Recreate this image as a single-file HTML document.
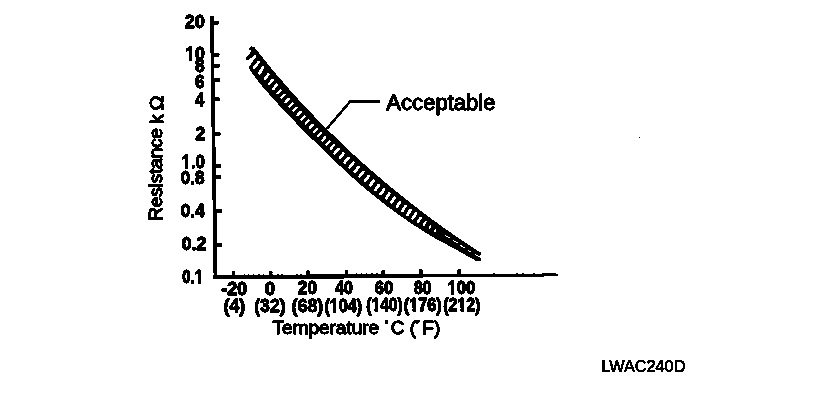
<!DOCTYPE html>
<html><head><meta charset="utf-8"><title>Resistance vs Temperature</title>
<style>
html,body{margin:0;padding:0;background:#fff;}
body{width:816px;height:416px;overflow:hidden;font-family:"Liberation Sans",sans-serif;}
svg{display:block;font-family:"Liberation Sans",sans-serif;}
svg{filter:url(#thr);}
svg text{fill:#000;stroke:#000;stroke-width:0.6px;stroke-linejoin:round;}
svg text.b{stroke-width:0.9px;}
</style></head>
<body>
<svg width="816" height="416" viewBox="0 0 816 416" shape-rendering="geometricPrecision">
<defs><filter id="thr" x="0" y="0" width="816" height="416" filterUnits="userSpaceOnUse" color-interpolation-filters="sRGB">
<feColorMatrix type="matrix" values="0.33 0.34 0.33 0 0  0.33 0.34 0.33 0 0  0.33 0.34 0.33 0 0  0 0 0 1 0"/>
<feComponentTransfer><feFuncR type="discrete" tableValues="0 0 0 0 0 0 0 0 0 0 0 1 1 1 1 1"/><feFuncG type="discrete" tableValues="0 0 0 0 0 0 0 0 0 0 0 1 1 1 1 1"/><feFuncB type="discrete" tableValues="0 0 0 0 0 0 0 0 0 0 0 1 1 1 1 1"/></feComponentTransfer>
</filter></defs>
<rect width="816" height="416" fill="#fff"/>
<!-- axes -->
<polygon points="210.2,16 213.3,16 217.3,278.9 213.8,278.9" fill="#000"/>
<polygon points="213.8,275.2 345,274.5 395,274.0 430,273.8 540,273.7 555,273.2 557.9,274.4 557.9,275.9 555,276.3 430,276.8 418,277.7 345,278.2 338,278.9 213.8,278.9" fill="#000"/>
<g fill="#000">
<rect x="211.3" y="20.8" width="7.5" height="3.7" rx="0.8"/>
<rect x="211.7" y="53.6" width="7.6" height="3.7" rx="0.8"/>
<rect x="211.9" y="63.9" width="7.6" height="3.7" rx="0.8"/>
<rect x="212.1" y="78.0" width="7.6" height="3.7" rx="0.8"/>
<rect x="212.3" y="97.4" width="7.6" height="3.7" rx="0.8"/>
<rect x="212.8" y="132.2" width="7.7" height="3.7" rx="0.8"/>
<rect x="213.3" y="164.6" width="7.7" height="3.7" rx="0.8"/>
<rect x="213.4" y="175.3" width="7.7" height="3.7" rx="0.8"/>
<rect x="213.9" y="209.2" width="7.8" height="3.7" rx="0.8"/>
<rect x="214.3" y="243.1" width="7.8" height="3.7" rx="0.8"/>
<rect x="231.9" y="271.0" width="3.2" height="6.5" rx="1.2"/>
<rect x="269.1" y="271.0" width="3.2" height="6.5" rx="1.2"/>
<rect x="306.2" y="270.6" width="3.2" height="6.5" rx="1.2"/>
<rect x="344.8" y="270.0" width="3.2" height="6.5" rx="1.2"/>
<rect x="381.6" y="270.0" width="3.2" height="6.5" rx="1.2"/>
<rect x="419.3" y="269.0" width="3.2" height="6.5" rx="1.2"/>
<rect x="457.5" y="269.0" width="3.2" height="6.5" rx="1.2"/>
<rect x="244" y="274.6" width="1.6" height="1.2"/>
<rect x="248" y="274.5" width="1.6" height="1.2"/>
<rect x="253" y="274.6" width="1.6" height="1.2"/>
<rect x="258" y="274.5" width="1.6" height="1.2"/>
<rect x="263" y="274.6" width="1.6" height="1.2"/>
<rect x="277" y="274.5" width="1.6" height="1.2"/>
<rect x="281" y="274.4" width="1.6" height="1.2"/>
<rect x="296" y="274.4" width="1.6" height="1.2"/>
<rect x="300" y="274.3" width="1.6" height="1.2"/>
<rect x="337" y="274.0" width="1.6" height="1.2"/>
<rect x="341" y="273.9" width="1.6" height="1.2"/>
<rect x="352" y="273.7" width="1.6" height="1.2"/>
<rect x="356" y="273.6" width="1.6" height="1.2"/>
<rect x="361" y="273.5" width="1.6" height="1.2"/>
<rect x="366" y="273.5" width="1.6" height="1.2"/>
<rect x="371" y="273.4" width="1.6" height="1.2"/>
<rect x="376" y="273.4" width="1.6" height="1.2"/>
<rect x="493" y="273.2" width="1.6" height="1.2"/>
<rect x="516" y="273.1" width="1.6" height="1.2"/>
<rect x="522" y="273.1" width="1.6" height="1.2"/>
<rect x="533" y="273.0" width="1.6" height="1.2"/>
</g>
<!-- band -->
<polygon points="251.5,46.6 254.3,47.3 261.0,55.8 267.8,64.3 274.8,72.8 282.1,81.3 289.5,89.8 297.1,98.3 305.0,106.8 313.1,115.3 321.4,123.8 330.0,132.3 338.8,140.8 347.8,149.4 357.1,157.9 366.6,166.4 376.4,174.9 386.4,183.4 396.8,191.9 407.4,200.4 418.3,208.9 429.5,217.4 441.1,225.9 453.1,234.4 465.5,242.9 478.4,251.4 480.3,252.6 480.3,255.2 478.5,256.0 480.3,257.0 480.3,260.3 478.5,261.2 476.5,260.9 462.0,252.8 447.8,245.0 433.0,237.0 420.1,229.0 407.9,221.0 396.5,213.1 385.7,205.1 375.6,197.1 366.0,189.2 356.8,181.2 348.0,173.2 339.4,165.2 331.0,157.3 322.7,149.3 314.5,141.3 306.5,133.4 298.6,125.4 290.9,117.4 283.3,109.5 275.9,101.5 268.7,93.5 261.8,85.5 255.4,77.6 249.8,69.6 248.6,67.6 256.6,56.2 252.6,51.5 249.3,49.3 249.6,47.6" fill="#000"/>
<circle cx="479.3" cy="253.6" r="1.7" fill="#000"/><circle cx="479.0" cy="259.0" r="1.9" fill="#000"/>
<polygon points="251.4,51.4 253.5,51.6 255.2,54.6 247.4,60.4 245.6,58.7" fill="#000"/>
<g stroke="#fff" stroke-linecap="round">
<line x1="258.5" y1="62.2" x2="254.0" y2="67.9" stroke-width="3.0"/>
<line x1="262.9" y1="67.6" x2="259.5" y2="73.1" stroke-width="3.0"/>
<line x1="268.4" y1="74.2" x2="264.9" y2="79.0" stroke-width="2.9"/>
<line x1="272.7" y1="79.8" x2="269.1" y2="84.2" stroke-width="2.9"/>
<line x1="276.8" y1="84.6" x2="273.3" y2="89.0" stroke-width="2.9"/>
<line x1="280.7" y1="90.3" x2="277.5" y2="93.3" stroke-width="2.7"/>
<line x1="284.6" y1="94.7" x2="281.4" y2="97.7" stroke-width="2.7"/>
<line x1="288.6" y1="99.0" x2="285.4" y2="102.1" stroke-width="2.7"/>
<line x1="292.5" y1="103.4" x2="289.4" y2="106.5" stroke-width="2.7"/>
<line x1="296.5" y1="107.7" x2="293.4" y2="110.8" stroke-width="2.7"/>
<line x1="300.6" y1="112.0" x2="297.5" y2="115.1" stroke-width="2.7"/>
<line x1="304.6" y1="116.2" x2="301.6" y2="119.4" stroke-width="2.7"/>
<line x1="308.7" y1="120.4" x2="305.7" y2="123.6" stroke-width="2.7"/>
<line x1="312.9" y1="124.7" x2="309.8" y2="127.8" stroke-width="2.7"/>
<line x1="317.0" y1="128.8" x2="314.0" y2="132.1" stroke-width="2.7"/>
<line x1="321.2" y1="133.0" x2="318.2" y2="136.2" stroke-width="2.7"/>
<line x1="325.4" y1="137.1" x2="322.4" y2="140.4" stroke-width="2.7"/>
<line x1="329.6" y1="141.3" x2="326.6" y2="144.5" stroke-width="2.7"/>
<line x1="333.8" y1="145.3" x2="330.9" y2="148.6" stroke-width="2.7"/>
<line x1="338.5" y1="148.9" x2="334.7" y2="153.3" stroke-width="3.1"/>
<line x1="343.4" y1="153.5" x2="339.7" y2="157.9" stroke-width="3.1"/>
<line x1="348.4" y1="158.2" x2="344.6" y2="162.6" stroke-width="3.1"/>
<line x1="353.4" y1="162.8" x2="349.7" y2="167.2" stroke-width="3.1"/>
<line x1="358.4" y1="167.3" x2="354.7" y2="171.8" stroke-width="3.1"/>
<line x1="363.4" y1="171.8" x2="359.8" y2="176.4" stroke-width="3.1"/>
<line x1="368.5" y1="176.3" x2="365.0" y2="180.9" stroke-width="3.1"/>
<line x1="373.7" y1="180.7" x2="370.2" y2="185.3" stroke-width="3.1"/>
<line x1="378.9" y1="185.0" x2="375.4" y2="189.7" stroke-width="3.1"/>
<line x1="384.1" y1="189.3" x2="380.7" y2="194.0" stroke-width="3.1"/>
<line x1="389.4" y1="193.5" x2="386.1" y2="198.3" stroke-width="3.1"/>
<line x1="394.7" y1="197.7" x2="391.4" y2="202.5" stroke-width="3.1"/>
<line x1="400.1" y1="201.8" x2="396.9" y2="206.7" stroke-width="3.1"/>
<line x1="405.5" y1="206.0" x2="402.3" y2="210.8" stroke-width="3.1"/>
<line x1="410.6" y1="209.8" x2="407.5" y2="214.6" stroke-width="3.1"/>
<line x1="415.8" y1="213.5" x2="412.7" y2="218.3" stroke-width="3.1"/>
<line x1="420.7" y1="217.7" x2="418.2" y2="221.6" stroke-width="2.9"/>
<line x1="425.6" y1="221.8" x2="423.8" y2="224.8" stroke-width="2.6"/>
<line x1="430.6" y1="225.9" x2="429.4" y2="228.0" stroke-width="2.4"/>
<line x1="435.7" y1="229.9" x2="435.0" y2="231.0" stroke-width="2.2"/>
<line x1="445.6" y1="235.6" x2="449.6" y2="238.0" stroke-width="1.25"/>
<line x1="453.2" y1="240.4" x2="457.4" y2="242.9" stroke-width="1.25"/>
<line x1="460.8" y1="245.5" x2="465.0" y2="248.2" stroke-width="1.25"/>
<line x1="467.6" y1="250.0" x2="471.2" y2="252.2" stroke-width="1.25"/>
<line x1="475.0" y1="254.7" x2="481" y2="257.2" stroke-width="1.25"/>
</g>
<!-- leader -->
<polyline points="327,128.5 350.2,101.5 379.8,101.5" fill="none" stroke="#000" stroke-width="2.3" stroke-linejoin="miter"/>
<!-- labels -->
<text id="y0" x="184.75" y="27.95" class="b" font-size="17.60" font-weight="bold" textLength="20.01" lengthAdjust="spacingAndGlyphs">20</text>
<text id="y1" x="185.25" y="59.95" class="b" font-size="17.60" font-weight="bold" textLength="19.54" lengthAdjust="spacingAndGlyphs">10</text>
<text id="y2" x="195.00" y="72.45" class="b" font-size="17.60" font-weight="bold" textLength="9.53" lengthAdjust="spacingAndGlyphs">8</text>
<text id="y3" x="195.00" y="87.95" class="b" font-size="17.60" font-weight="bold" textLength="9.53" lengthAdjust="spacingAndGlyphs">6</text>
<text id="y4" x="195.25" y="106.20" class="b" font-size="17.60" font-weight="bold" textLength="8.87" lengthAdjust="spacingAndGlyphs">4</text>
<text id="y5" x="195.50" y="140.45" class="b" font-size="17.60" font-weight="bold" textLength="9.78" lengthAdjust="spacingAndGlyphs">2</text>
<text id="y6" x="181.50" y="167.95" class="b" font-size="17.60" font-weight="bold" textLength="23.26" lengthAdjust="spacingAndGlyphs">1.0</text>
<text id="y7" x="180.75" y="183.95" class="b" font-size="17.60" font-weight="bold" textLength="23.76" lengthAdjust="spacingAndGlyphs">0.8</text>
<text id="y8" x="180.75" y="216.70" class="b" font-size="17.60" font-weight="bold" textLength="24.00" lengthAdjust="spacingAndGlyphs">0.4</text>
<text id="y9" x="181.75" y="250.20" class="b" font-size="17.60" font-weight="bold" textLength="24.49" lengthAdjust="spacingAndGlyphs">0.2</text>
<text id="y10" x="182.25" y="282.70" class="b" font-size="17.60" font-weight="bold" textLength="20.81" lengthAdjust="spacingAndGlyphs">0.1</text>
<text id="a0" x="221.25" y="294.95" class="b" font-size="17.60" font-weight="bold" textLength="26.01" lengthAdjust="spacingAndGlyphs">-20</text>
<text id="a1" x="264.75" y="294.70" class="b" font-size="17.60" font-weight="bold" textLength="10.29" lengthAdjust="spacingAndGlyphs">0</text>
<text id="a2" x="297.75" y="294.45" class="b" font-size="17.60" font-weight="bold" textLength="19.50" lengthAdjust="spacingAndGlyphs">20</text>
<text id="a3" x="335.25" y="294.45" class="b" font-size="17.60" font-weight="bold" textLength="17.56" lengthAdjust="spacingAndGlyphs">40</text>
<text id="a4" x="374.75" y="294.45" class="b" font-size="17.60" font-weight="bold" textLength="18.51" lengthAdjust="spacingAndGlyphs">60</text>
<text id="a5" x="414.00" y="294.20" class="b" font-size="17.60" font-weight="bold" textLength="17.51" lengthAdjust="spacingAndGlyphs">80</text>
<text id="a6" x="447.50" y="293.95" class="b" font-size="17.60" font-weight="bold" textLength="27.74" lengthAdjust="spacingAndGlyphs">100</text>
<text id="b0" x="223.50" y="311.90" class="b" font-size="17.60" font-weight="bold" textLength="21.77" lengthAdjust="spacingAndGlyphs">(4)</text>
<text id="b1" x="254.25" y="311.90" class="b" font-size="17.60" font-weight="bold" textLength="31.27" lengthAdjust="spacingAndGlyphs">(32)</text>
<text id="b2" x="291.50" y="311.65" class="b" font-size="17.60" font-weight="bold" textLength="31.76" lengthAdjust="spacingAndGlyphs">(68)</text>
<text id="b3" x="324.50" y="311.65" class="b" font-size="17.60" font-weight="bold" textLength="37.51" lengthAdjust="spacingAndGlyphs">(104)</text>
<text id="b4" x="366.25" y="311.40" class="b" font-size="17.60" font-weight="bold" textLength="36.51" lengthAdjust="spacingAndGlyphs">(140)</text>
<text id="b5" x="403.75" y="311.15" class="b" font-size="17.60" font-weight="bold" textLength="38.04" lengthAdjust="spacingAndGlyphs">(176)</text>
<text id="b6" x="443.25" y="311.15" class="b" font-size="17.60" font-weight="bold" textLength="37.02" lengthAdjust="spacingAndGlyphs">(212)</text>
<text id="acc" x="386.35" y="110.00" font-size="21.80" font-weight="normal" textLength="109.20" lengthAdjust="spacingAndGlyphs" style="stroke-width:1.0px">Acceptable</text>
<text id="tmp" x="272.60" y="334.20" font-size="18.70" font-weight="normal" textLength="167.65" lengthAdjust="spacingAndGlyphs" style="stroke-width:1.0px">Temperature &#729;C (&#729;F)</text>
<text id="lw" x="601.50" y="371.50" font-size="16.00" font-weight="normal" textLength="83.87" lengthAdjust="spacingAndGlyphs" style="stroke-width:0.5px">LWAC240D</text>
<text id="res1" transform="translate(162.35,220.75) rotate(-90)" font-size="18.70" font-weight="normal" textLength="92.76" lengthAdjust="spacingAndGlyphs" style="stroke-width:1.0px">Resistance</text>
<text id="res2" transform="translate(162.60,124.00) rotate(-90)" font-size="18.70" font-weight="normal" textLength="9.51" lengthAdjust="spacingAndGlyphs" style="stroke-width:1.0px">k</text>
<text id="res3" transform="translate(162.60,110.50) rotate(-90)" font-size="18.70" font-weight="normal" textLength="15.03" lengthAdjust="spacingAndGlyphs" style="stroke-width:1.0px">&#937;</text>
<g id="wh"><rect x="185.21" y="56.70" width="3.70" height="4.40" fill="#fff"/>
<rect x="192.22" y="56.70" width="3.47" height="4.40" fill="#fff"/>
<rect x="181.40" y="164.70" width="3.55" height="4.40" fill="#fff"/>
<rect x="188.16" y="164.70" width="3.34" height="4.40" fill="#fff"/>
<rect x="194.52" y="279.45" width="3.25" height="4.40" fill="#fff"/>
<rect x="200.73" y="279.45" width="3.06" height="4.40" fill="#fff"/>
<rect x="447.40" y="290.70" width="3.54" height="4.40" fill="#fff"/>
<rect x="454.12" y="290.70" width="3.32" height="4.40" fill="#fff"/>
<rect x="329.70" y="308.40" width="3.45" height="4.40" fill="#fff"/>
<rect x="336.26" y="308.40" width="3.24" height="4.40" fill="#fff"/>
<rect x="371.28" y="308.15" width="3.37" height="4.40" fill="#fff"/>
<rect x="377.71" y="308.15" width="3.17" height="4.40" fill="#fff"/>
<rect x="409.04" y="307.90" width="3.48" height="4.40" fill="#fff"/>
<rect x="415.67" y="307.90" width="3.28" height="4.40" fill="#fff"/>
<rect x="457.20" y="307.90" width="3.41" height="4.40" fill="#fff"/>
<rect x="463.68" y="307.90" width="3.20" height="4.40" fill="#fff"/></g>
<rect x="385.1" y="320.6" width="2.9" height="3.0" rx="0.9" fill="#000"/>
<rect x="415.8" y="320.6" width="2.9" height="3.0" rx="0.9" fill="#000"/>
<rect x="639" y="137" width="1.2" height="1.2" fill="#000"/>
</svg>
</body></html>
